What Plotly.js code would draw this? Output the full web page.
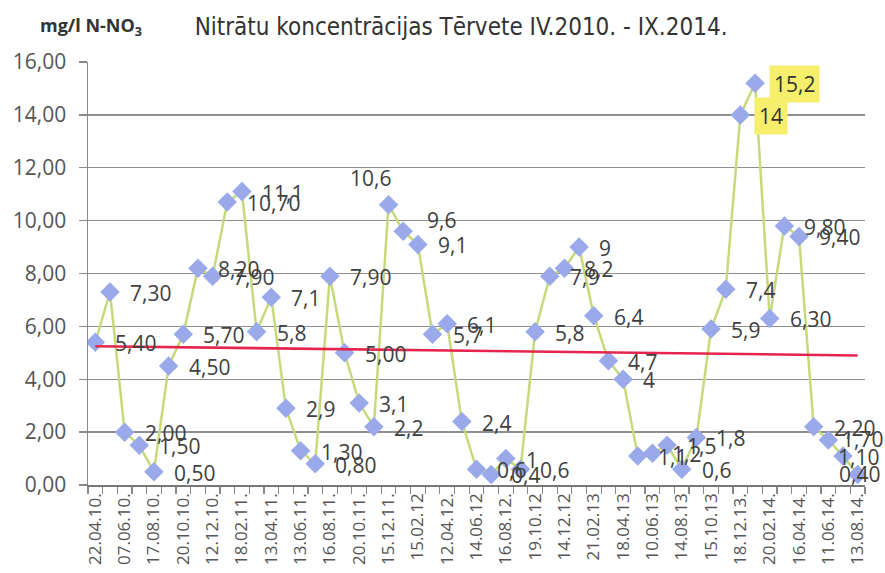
<!DOCTYPE html>
<html>
<head>
<meta charset="utf-8">
<script src="https://cdn.plot.ly/plotly-3.0.1.min.js"></script>
<style>html,body{margin:0;padding:0;background:#fff;}#chart{width:885px;height:573px;}</style>
</head>
<body>
<div id="chart"></div>
<script>
// Measurement values (mg/l N-NO3), in sampling order
var values = [5.4, 7.3, 2.0, 1.5, 0.5, 4.5, 5.7, 8.2, 7.9, 10.7, 11.1, 5.8, 7.1, 2.9, 1.3, 0.8, 7.9, 5.0, 3.1, 2.2,
              10.6, 9.6, 9.1, 5.7, 6.1, 2.4, 0.6, 0.4, 1.0, 0.6, 5.8, 7.9, 8.2, 9.0, 6.4, 4.7, 4.0, 1.1, 1.2, 1.5,
              0.6, 1.8, 5.9, 7.4, 14.0, 15.2, 6.3, 9.8, 9.4, 2.2, 1.7, 1.1, 0.4];
// Data label texts as printed on the chart
var labels = ["5,40", "7,30", "2,00", "1,50", "0,50", "4,50", "5,70", "8,20", "7,90", "10,70", "11,1", "5,8", "7,1", "2,9", "1,30", "0,80", "7,90", "5,00", "3,1", "2,2",
              "10,6", "9,6", "9,1", "5,7", "6,1", "2,4", "0,6", "0,4", "1", "0,6", "5,8", "7,9", "8,2", "9", "6,4", "4,7", "4", "1,1", "1,2", "1,5",
              "0,6", "1,8", "5,9", "7,4", "14", "15,2", "6,30", "9,80", "9,40", "2,20", "1,70", "1,10", "0,40"];
// Date tick labels (every second sample)
var dateLabels = ["22.04.10.", "07.06.10.", "17.08.10.", "20.10.10.", "12.12.10.", "18.02.11.", "13.04.11.", "13.06.11.", "16.08.11.",
                  "20.10.11.", "15.12.11.", "15.02.12", "12.04.12.", "14.06.12", "16.08.12.", "19.10.12", "14.12.12", "21.02.13",
                  "18.04.13", "10.06.13", "14.08.13", "15.10.13", "18.12.13.", "20.02.14.", "16.04.14.", "11.06.14.", "13.08.14."];
// Linear trend line: value at first and last sample
var trendValues = [5.25, 4.9];
// Labels highlighted with yellow background
var highlighted = [44, 45];

var xs = values.map(function (v, i) { return i; });
var tickVals = dateLabels.map(function (d, i) { return i * 2; });
var minorVals = [];
for (var k = 0; k <= values.length; k++) minorVals.push(k - 0.5);

var font = "Open Sans, DejaVu Sans, sans-serif";
var n = values.length;

var annotations = values.map(function (v, i) {
  var a = {
    x: i, y: v, xref: 'x', yref: 'y', text: labels[i], showarrow: false,
    xanchor: 'left', yanchor: 'middle', xshift: 18, yshift: -1,
    font: {family: font, size: 21, color: '#404040'}
  };
  if (i === 20) { a.xanchor = 'center'; a.xshift = -18; a.yshift = 27; }
  if (i === 21) { a.xshift = 22; a.yshift = 11; }
  // labels near the right edge are pulled back inside the chart
  if (i === n - 3) { a.xshift = 12; a.yshift = 1; }
  if (i === n - 2) { a.xshift = -7; a.yshift = -1; }
  if (i === n - 1) { a.xshift = -21; a.yshift = 0; }
  if (highlighted.indexOf(i) >= 0) {
    a.bgcolor = '#f6ef6c'; a.borderpad = 4; a.xshift = 14; a.font.color = '#333';
  }
  return a;
});

annotations.push({
  xref: 'paper', yref: 'paper', x: -0.064, y: 1.083, xanchor: 'left', yanchor: 'middle',
  showarrow: false, text: '<b>mg/l N-NO<sub>3</sub></b>',
  font: {family: font, size: 18, color: '#333'}
});

var data = [
  {
    x: xs, y: values, type: 'scatter', mode: 'lines+markers',
    line: {color: '#c6da7c', width: 2.5},
    marker: {symbol: 'diamond', size: 15, color: '#9aa9ea', line: {width: 0}},
    hoverinfo: 'skip'
  },
  {
    x: [0, n - 1], y: trendValues, type: 'scatter', mode: 'lines',
    line: {color: '#e6254f', width: 2.6},
    hoverinfo: 'skip'
  }
];

var layout = {
  width: 885, height: 573,
  margin: {l: 88, r: 20, t: 62, b: 88},
  paper_bgcolor: '#fff', plot_bgcolor: '#fff',
  showlegend: false,
  separators: ',.',
  title: {
    text: 'Nitrātu koncentrācijas Tērvete IV.2010. - IX.2014.',
    x: 0.521, xanchor: 'center', y: 0.953, yanchor: 'middle',
    font: {family: 'Liberation Sans Narrow, DejaVu Sans Condensed, sans-serif', size: 24, color: '#333'}
  },
  xaxis: {
    range: [-0.5, n - 0.5],
    tickmode: 'array', tickvals: tickVals, ticktext: dateLabels,
    tickangle: -90, ticks: '',
    tickfont: {family: font, size: 17, color: '#555'},
    showgrid: false, zeroline: false,
    showline: true, linecolor: '#777', linewidth: 1.5,
    minor: {tickmode: 'array', tickvals: minorVals, ticks: 'outside', ticklen: 7, tickcolor: '#888', tickwidth: 1.2, showgrid: false},
    fixedrange: true
  },
  yaxis: {
    range: [0, 16], dtick: 2, tick0: 0, tickformat: '.2f',
    ticks: 'outside', ticklen: 8, tickcolor: '#8a8a8a', tickwidth: 1.3,
    ticklabelstandoff: 8,
    tickfont: {family: font, size: 21, color: '#555'},
    showgrid: true, gridcolor: '#8e8e8e', gridwidth: 1.3,
    zeroline: false, showline: true, linecolor: '#8a8a8a', linewidth: 1.5,
    fixedrange: true
  },
  annotations: annotations
};

Plotly.newPlot('chart', data, layout, {displayModeBar: false, staticPlot: true});
</script>
</body>
</html>
